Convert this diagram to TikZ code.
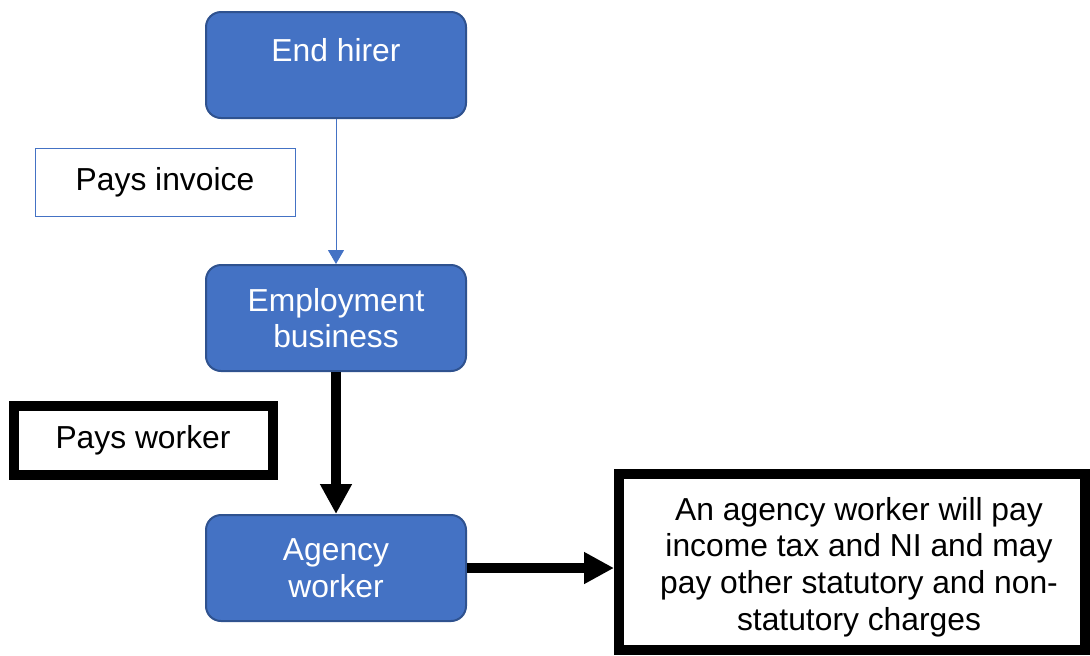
\documentclass[tikz,border=0pt]{standalone}
\usepackage{fontspec}
\setmainfont{Liberation Sans}
\usetikzlibrary{arrows.meta}
\definecolor{boxblue}{RGB}{68,114,196}
\definecolor{boxedge}{RGB}{47,82,143}
\begin{document}
\begin{tikzpicture}[x=0.5pt,y=-0.5pt,
    every node/.style={font=\fontsize{15.9}{18.3}\selectfont,align=center},
    bluebox/.style={draw=boxedge,fill=boxblue,line width=1pt,rounded corners=7.5pt,
        minimum width=130pt,minimum height=53pt,text=white},
    thinnote/.style={draw=boxblue,line width=0.5pt,minimum width=130pt,minimum height=34pt},
    thicknote/.style={draw=black,line width=5pt,minimum width=129.5pt,minimum height=34.5pt},
    thinarrow/.style={draw=boxblue,line width=0.5pt,-{Triangle[length=7pt,width=8pt]}},
    thickarrow/.style={draw=black,line width=5pt,-{Triangle[length=15pt,width=15pt]}}]
    \useasboundingbox (0,0) rectangle (1090,655);

    \node[bluebox] (hirer) at (336,65) {};
        \node[text=white] (hirertext) at (336,50) {End hirer};
    \node[bluebox] (employ) at (336,318) {Employment\\business};
    \node[bluebox] (agency) at (336,568) {Agency\\worker};

    \node[thinnote] (invoice) at (165,182) {Pays invoice};
    \node[thicknote] (payworker) at (143,440) {Pays worker};
    \node[thicknote,minimum width=233pt,minimum height=88pt] (charges) at (852,562) {};
        \node[font=\fontsize{15.9}{18.4}\selectfont] (chargestext) at (859,567)
            {An agency worker will pay\\income tax and NI and may\\pay other statutory and non-\\statutory charges};

    \draw[thinarrow] (hirer) -- (employ);
    \draw[thickarrow] (employ) -- (agency);
    \draw[thickarrow] (agency.east) -- (agency.east -| charges.west);

\end{tikzpicture}
\end{document}
